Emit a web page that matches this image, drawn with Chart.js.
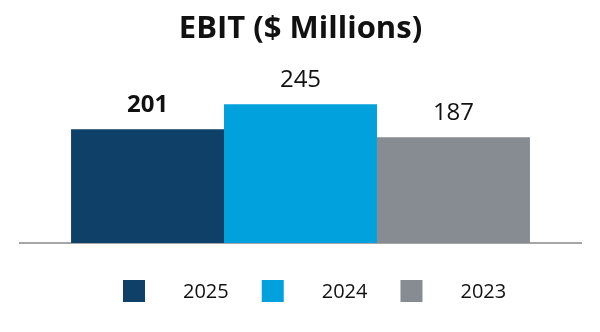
<!DOCTYPE html>
<html>
<head>
<meta charset="utf-8">
<script src="https://cdn.jsdelivr.net/npm/chart.js@4.4.1/dist/chart.umd.min.js"></script>
<style>
  body { margin: 0; background: #fff; }
  #wrap { width: 600px; height: 332px; }
</style>
</head>
<body>
<div id="wrap"><canvas id="ebit"></canvas></div>
<script>
// dados do grafico
const categorias = ['EBIT'];
const anos = ['2025', '2024', '2023'];
const valores = [201, 245, 187];
const cores = ['#0f4068', '#00a1dc', '#878c93'];

// rotulos acima das barras (o primeiro em negrito)
const rotulosPlugin = {
    id: 'rotulos',
    afterDatasetsDraw(chart) {
        const ctx = chart.ctx;
        ctx.save();
        ctx.textAlign = 'center';
        ctx.textBaseline = 'alphabetic';
        ctx.fillStyle = '#111';
        chart.data.datasets.forEach(function (ds, i) {
            const bar = chart.getDatasetMeta(i).data[0];
            ctx.font = (i === 0 ? 'bold ' : '') + '24px "Open Sans"';
            ctx.fillText(ds.data[0], bar.x, bar.y - 17);
        });
        ctx.restore();
    }
};

// legenda desenhada na parte de baixo
const legendaPlugin = {
    id: 'legenda',
    afterDraw(chart) {
        const ctx = chart.ctx;
        let x = 123;
        const y = 280;
        ctx.save();
        ctx.font = '20px "Open Sans"';
        ctx.textBaseline = 'middle';
        chart.data.datasets.forEach(function (ds) {
            ctx.fillStyle = ds.backgroundColor;
            ctx.fillRect(x, y, 22, 22);
            ctx.fillStyle = '#111';
            ctx.fillText(ds.label, x + 60, y + 12);
            x += 60 + ctx.measureText(ds.label).width + 33;
        });
        ctx.restore();
    }
};

const ctx = document.getElementById('ebit').getContext('2d');
const grafico = new Chart(ctx, {
    type: 'bar',
    data: {
        labels: categorias,
        datasets: anos.map(function (ano, i) {
            return {
                label: ano,
                data: [valores[i]],
                backgroundColor: cores[i],
                borderWidth: 0
            };
        })
    },
    options: {
        responsive: true,
        maintainAspectRatio: false,
        animation: false,
        categoryPercentage: 0.818,
        barPercentage: 1.0,
        layout: {
            padding: { left: 20, right: 19, top: 0, bottom: 81 }
        },
        plugins: {
            legend: { display: false },
            tooltip: { enabled: false },
            title: {
                display: true,
                text: 'EBIT ($ Millions)',
                color: '#111',
                font: { family: 'Open Sans', size: 31, weight: 'bold' },
                padding: { top: 11, bottom: 25 }
            }
        },
        scales: {
            x: {
                ticks: { display: false },
                grid: { display: false },
                border: { display: true, color: '#a6a6a6', width: 2 }
            },
            y: {
                display: false,
                min: 0,
                max: 300
            }
        }
    },
    plugins: [rotulosPlugin, legendaPlugin]
});
</script>
</body>
</html>
